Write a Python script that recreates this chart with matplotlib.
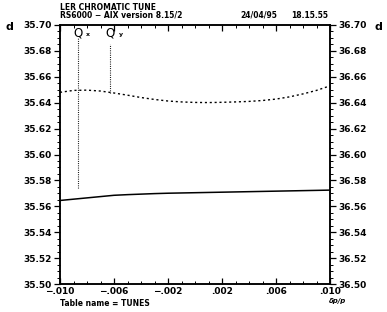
import matplotlib
matplotlib.use("Agg")
import matplotlib.pyplot as plt
from matplotlib.ticker import MultipleLocator, FixedLocator, FuncFormatter
import numpy as np

# data
dpp = [-0.010, -0.009, -0.008, -0.007, -0.006, -0.005, -0.004, -0.003, -0.002, -0.001,
       0.000, 0.001, 0.002, 0.003, 0.004, 0.005, 0.006, 0.007, 0.008, 0.009, 0.010]
qx_frac = [35.6480, 35.6495, 35.6497, 35.6490, 35.6475, 35.6458, 35.6440, 35.6425, 35.6413, 35.6406,
           35.6402, 35.6401, 35.6403, 35.6406, 35.6410, 35.6417, 35.6428, 35.6445, 35.6468, 35.6495, 35.6530]
qy_frac = [35.5645, 35.5655, 35.5665, 35.5675, 35.5685, 35.5690, 35.5694, 35.5698, 35.5701, 35.5703,
           35.5705, 35.5707, 35.5709, 35.5711, 35.5713, 35.5715, 35.5717, 35.5719, 35.5721, 35.5723, 35.5725]
marker_x = [-0.0087, -0.0063]
marker_top = [35.6905, 35.6855]
marker_bottom = [35.5745, 35.6478]
marker_labels = ["Q", "Q"]
marker_subs = ["x", "y"]
xticks = [-0.010, -0.006, -0.002, 0.002, 0.006, 0.010]
xticklabels = ["\u2212.010", "\u2212.006", "\u2212.002", ".002", ".006", ".010"]
yticks = [35.50, 35.52, 35.54, 35.56, 35.58, 35.60, 35.62, 35.64, 35.66, 35.68, 35.70]
right_offset = 1.0

W, H = 387, 312
fig = plt.figure(figsize=(W / 100, H / 100), dpi=100)
L, R, T, B = 60, 330, 25, 284
ax = fig.add_axes([L / W, 1 - B / H, (R - L) / W, (B - T) / H])

fs = 6.5
fw = "bold"

ax.plot(dpp, qx_frac, color="black", lw=1.0, ls=(0, (1.5, 2.0)))
ax.plot(dpp, qy_frac, color="black", lw=1.1)
for xm, yt, yb in zip(marker_x, marker_top, marker_bottom):
    ax.plot([xm, xm], [yb, yt], color="black", lw=0.8, ls=(0, (0.8, 1.2)))
for xm, lab, sub in zip(marker_x, marker_labels, marker_subs):
    ax.text(xm, 35.6985, lab, fontsize=8.5, ha="center", va="top", color="black")
    ax.text(xm + 0.00065, 35.6925, sub, fontsize=4.5, fontweight=fw, ha="left", va="center", color="black")

ax.set_xlim(-0.010, 0.010)
ax.set_ylim(35.50, 35.70)
ax.xaxis.set_major_locator(FixedLocator(xticks))
ax.set_xticklabels(xticklabels)
ax.xaxis.set_minor_locator(MultipleLocator(0.001))
ax.yaxis.set_major_locator(FixedLocator(yticks))
ax.yaxis.set_minor_locator(MultipleLocator(0.005))
ax.yaxis.set_major_formatter(FuncFormatter(lambda v, p: f"{v:.2f}"))

ax.tick_params(axis="x", which="both", direction="in", top=True, bottom=True,
               labelsize=fs, pad=2)
ax.tick_params(axis="x", which="major", length=4, width=0.9)
ax.tick_params(axis="x", which="minor", length=2, width=0.7)
ax.tick_params(axis="y", which="both", direction="out", left=True, right=False,
               labelsize=fs, pad=2)
ax.tick_params(axis="y", which="major", length=4, width=0.9)
ax.tick_params(axis="y", which="minor", length=2, width=0.7)
for lab in ax.get_xticklabels() + ax.get_yticklabels():
    lab.set_fontweight(fw)

ax2 = ax.twinx()
ax2.set_ylim(35.50 + right_offset, 35.70 + right_offset)
ax2.yaxis.set_major_locator(FixedLocator([v + right_offset for v in yticks]))
ax2.yaxis.set_minor_locator(MultipleLocator(0.005))
ax2.yaxis.set_major_formatter(FuncFormatter(lambda v, p: f"{v:.2f}"))
ax2.tick_params(axis="y", which="both", direction="out", labelsize=fs, pad=2)
ax2.tick_params(axis="y", which="major", length=4, width=0.9)
ax2.tick_params(axis="y", which="minor", length=2, width=0.7)
for lab in ax2.get_yticklabels():
    lab.set_fontweight(fw)

for a in (ax, ax2):
    for s in a.spines.values():
        s.set_linewidth(1.1)

tfs = 5.5
fig.text(L / W, 1 - 7 / H, "LER CHROMATIC TUNE", fontsize=tfs, fontweight=fw, ha="left", va="center")
fig.text(L / W, 1 - 15 / H, "RS6000 \u2212 AIX version 8.15/2", fontsize=tfs, fontweight=fw, ha="left", va="center")
fig.text(240 / W, 1 - 15 / H, "24/04/95", fontsize=tfs, fontweight=fw, ha="left", va="center")
fig.text(291 / W, 1 - 15 / H, "18.15.55", fontsize=tfs, fontweight=fw, ha="left", va="center")
fig.text(9 / W, 1 - 27 / H, "d", fontsize=8, fontweight=fw, ha="center", va="center")
fig.text(378 / W, 1 - 27 / H, "d", fontsize=8, fontweight=fw, ha="center", va="center")
fig.text(L / W, 1 - 304 / H, "Table name = TUNES", fontsize=tfs, fontweight=fw, ha="left", va="center")
fig.text(338 / W, 1 - 301 / H, "\u03b4p/p", fontsize=5, style="italic", fontweight=fw, ha="center", va="center")

fig.savefig("out.png", dpi=100)
